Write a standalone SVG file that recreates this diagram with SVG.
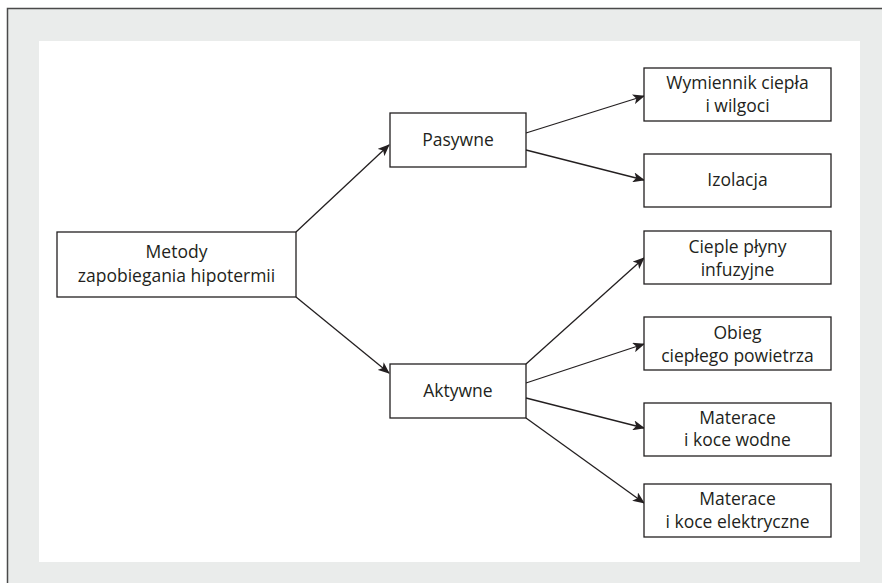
<svg xmlns="http://www.w3.org/2000/svg" width="882" height="583" viewBox="0 0 882 583">
<defs>
<style>
.box{fill:#fff;stroke:#231f20;stroke-width:1.3}
.t{font-family:"Open Sans","Noto Sans","Liberation Sans",sans-serif;font-size:17.5px;fill:#231f20;text-anchor:middle}
.c{stroke:#231f20;stroke-width:1.3;fill:none;marker-end:url(#ah)}
</style>
<marker id="ah" viewBox="0 0 12 10" refX="11" refY="5" markerWidth="12" markerHeight="10" markerUnits="userSpaceOnUse" orient="auto">
<path d="M0,0 L12,5 L0,10 L3,5 Z" fill="#231f20"/>
</marker>
</defs>
<rect x="7" y="8" width="875" height="575" fill="#eaeceb"/>
<path d="M7.5,583 V8.5 H882" fill="none" stroke="#4a4a4a" stroke-width="1.5"/>
<rect x="39" y="41" width="821" height="521" fill="#fff"/>
<g id="connectors">
<line class="c" x1="296" y1="232" x2="389" y2="145"/>
<line class="c" x1="296" y1="297" x2="389" y2="373"/>
<line class="c" x1="526" y1="133" x2="644" y2="96"/>
<line class="c" x1="526" y1="150" x2="644" y2="180"/>
<line class="c" x1="526" y1="364" x2="644" y2="258"/>
<line class="c" x1="526" y1="383" x2="644" y2="344"/>
<line class="c" x1="526" y1="398" x2="644" y2="428"/>
<line class="c" x1="526" y1="418" x2="644" y2="503"/>
</g>
<g id="metody"><rect class="box" x="57" y="232" width="239" height="65"/><text class="t" x="176.5" y="258">Metody</text><text class="t" x="176.5" y="282">zapobiegania hipotermii</text></g>
<g id="pasywne"><rect class="box" x="390" y="113" width="136" height="54"/><text class="t" x="458" y="146">Pasywne</text></g>
<g id="aktywne"><rect class="box" x="390" y="364" width="136" height="54"/><text class="t" x="458" y="397">Aktywne</text></g>
<g id="wymiennik"><rect class="box" x="644" y="68" width="187" height="53"/><text class="t" x="737.5" y="89">Wymiennik ciepła</text><text class="t" x="737.5" y="112">i wilgoci</text></g>
<g id="izolacja"><rect class="box" x="644" y="154" width="187" height="53"/><text class="t" x="737.5" y="186">Izolacja</text></g>
<g id="cieple"><rect class="box" x="644" y="231" width="187" height="53"/><text class="t" x="737.5" y="253">Cieple płyny</text><text class="t" x="737.5" y="276">infuzyjne</text></g>
<g id="obieg"><rect class="box" x="644" y="317" width="187" height="53"/><text class="t" x="737.5" y="339">Obieg</text><text class="t" x="737.5" y="362">ciepłego powietrza</text></g>
<g id="wodne"><rect class="box" x="644" y="403" width="187" height="53"/><text class="t" x="737.5" y="424">Materace</text><text class="t" x="737.5" y="446">i koce wodne</text></g>
<g id="elektryczne"><rect class="box" x="644" y="484" width="187" height="53"/><text class="t" x="737.5" y="505">Materace</text><text class="t" x="737.5" y="528">i koce elektryczne</text></g>
</svg>
